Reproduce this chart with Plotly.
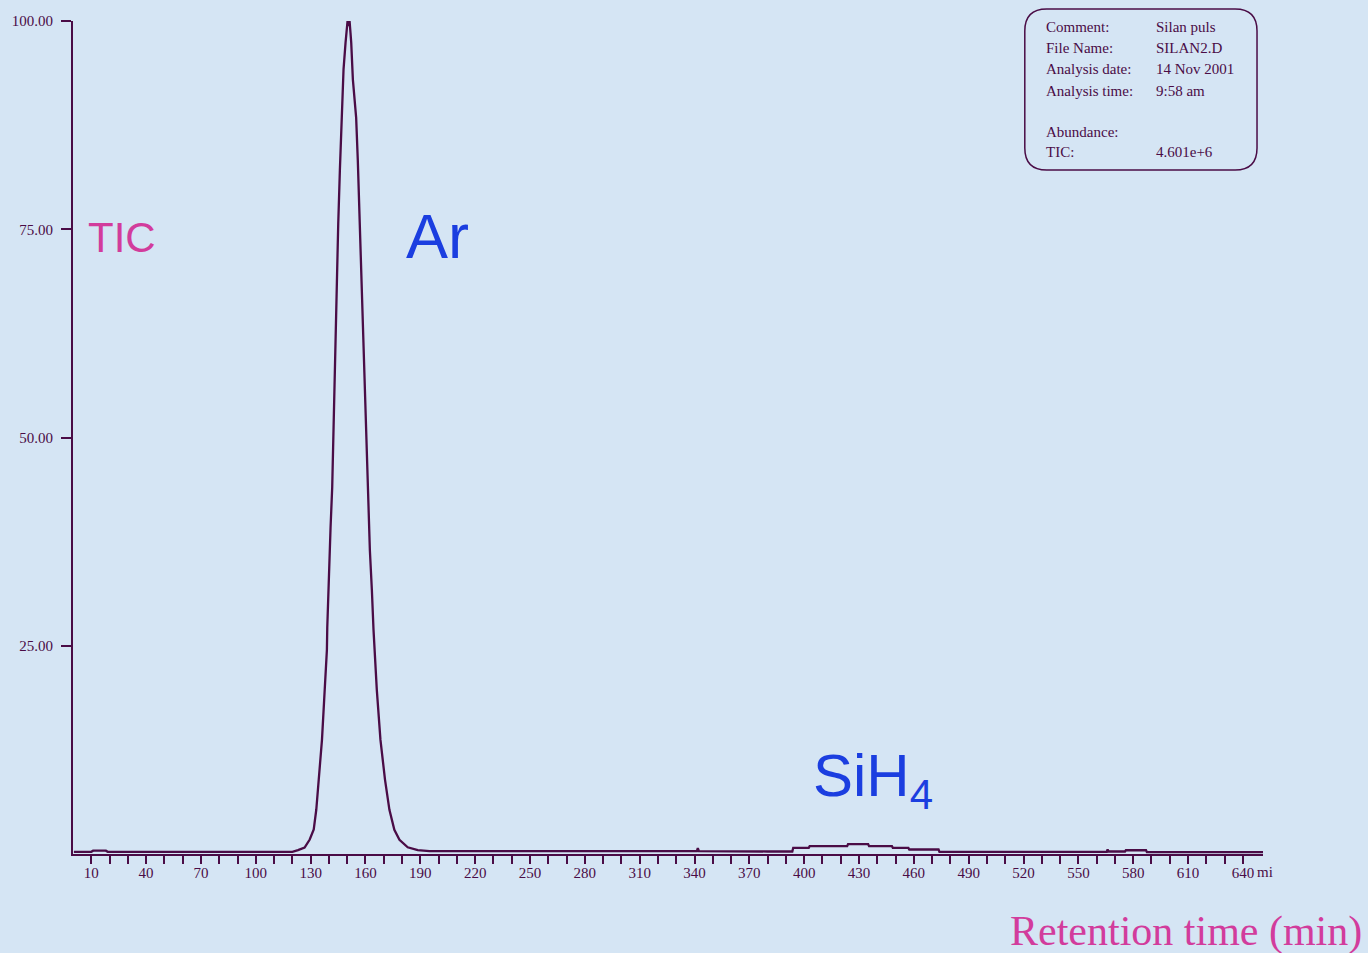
import plotly.graph_objects as go

# ---------------- data ----------------
time_min = [0.5, 10, 11, 18, 19, 60, 100, 120,
            123.1, 126.7, 129.5, 131.7, 133.1, 134.5, 136.2, 137.4, 138.9, 139.1,
            140.0, 140.9, 141.8, 142.4, 142.6, 143.4, 144.4, 145.1, 146.0, 147.1,
            148.0, 149.1, 149.6, 150.2, 150.8, 151.3, 151.8, 152.2, 153.1, 154.9,
            155.8, 156.5, 157.3, 158.2, 159.1, 160.0, 160.9, 161.7, 162.4, 163.5,
            164.4, 166.2, 168.2, 170.7, 173.1, 175.8, 178.6, 183.1, 188.6,
            195, 250, 300, 341.3, 341.8, 342.4, 380, 393.5, 394, 402.5, 403,
            423.5, 424, 435, 435.5, 448, 448.5, 457, 457.5, 473.5, 474,
            520, 565.5, 566, 566.5, 575.5, 576, 587, 587.5, 620, 651]
tic_abundance = [0.26, 0.26, 0.4, 0.4, 0.26, 0.26, 0.26, 0.26,
                 0.46, 0.78, 1.74, 2.94, 5.34, 8.93, 13.7, 18.5, 24.5, 27.2,
                 34.1, 39.2, 44.0, 49.7, 54.5, 62.5, 69.7, 75.7, 82.1, 89.0,
                 94.2, 97.4, 99.0, 100.0, 99.4, 100.0, 98.6, 97.4, 93.0, 88.4,
                 83.3, 78.5, 72.5, 65.0, 59.3, 52.9, 47.3, 41.3, 36.5, 31.7,
                 26.9, 19.7, 13.7, 8.9, 5.3, 2.9, 1.7, 0.8, 0.46,
                 0.34, 0.34, 0.34, 0.34, 0.7, 0.34, 0.3, 0.3, 0.74, 0.74, 0.94,
                 0.94, 1.18, 1.18, 0.94, 0.94, 0.74, 0.74, 0.54, 0.54, 0.26,
                 0.26, 0.26, 0.55, 0.3, 0.3, 0.45, 0.45, 0.22, 0.22, 0.22]

x_tick_values = [10, 40, 70, 100, 130, 160, 190, 220, 250, 280, 310, 340, 370,
                 400, 430, 460, 490, 520, 550, 580, 610, 640]
y_tick_values = [25, 50, 75, 100]

info_labels = ["Comment:", "File Name:", "Analysis date:", "Analysis time:", "Abundance:", "TIC:"]
info_values = ["Silan puls", "SILAN2.D", "14 Nov 2001", "9:58 am", "", "4.601e+6"]

# ---------------- styling ----------------
INK = "#4a0c46"
BG = "#d5e5f4"
MAGENTA = "#d23c9c"
BLUE = "#1b3ee0"
SERIF = "Liberation Serif, Times New Roman, serif"
SANS = "Liberation Sans, Arial, sans-serif"

W, H = 1368, 953
L, R, T, B = 69, 1263, 21, 854


def px(xp):
    return (xp - L) / (R - L)


def py(yp):
    return (B - yp) / (B - T)


fig = go.Figure()
fig.add_trace(go.Scatter(x=time_min, y=tic_abundance, mode="lines",
                         line=dict(color=INK, width=2.3), hoverinfo="x+y",
                         showlegend=False))

fig.update_layout(
    width=W, height=H,
    margin=dict(l=L, r=W - R, t=T, b=H - B, pad=0),
    paper_bgcolor=BG, plot_bgcolor=BG,
    font=dict(family=SERIF, color=INK, size=14),
    xaxis=dict(range=[0, 651], showgrid=False, zeroline=False,
               showline=True, linecolor=INK, linewidth=2,
               tickmode="array", tickvals=x_tick_values,
               ticktext=[str(v) for v in x_tick_values],
               ticks="outside", ticklen=8, tickwidth=2, tickcolor=INK,
               ticklabelstandoff=-4,
               tickfont=dict(family=SERIF, size=15, color=INK),
               minor=dict(tickmode="array", tickvals=list(range(10, 641, 10)),
                          ticks="outside", ticklen=8, tickwidth=2, tickcolor=INK),
               fixedrange=True),
    yaxis=dict(range=[0, 100], showgrid=False, zeroline=False,
               showline=True, linecolor=INK, linewidth=2,
               tickmode="array", tickvals=y_tick_values, tickformat=".2f",
               ticks="outside", ticklen=10, tickwidth=2, tickcolor=INK,
               ticklabelstandoff=5,
               tickfont=dict(family=SERIF, size=15, color=INK),
               fixedrange=True),
)

# info box with rounded corners
bx0, bx1, by0, by1, r = 1024, 1257, 9, 170, 22
path = (f"M {px(bx0 + r)},{py(by0)} L {px(bx1 - r)},{py(by0)} "
        f"Q {px(bx1)},{py(by0)} {px(bx1)},{py(by0 + r)} "
        f"L {px(bx1)},{py(by1 - r)} Q {px(bx1)},{py(by1)} {px(bx1 - r)},{py(by1)} "
        f"L {px(bx0 + r)},{py(by1)} Q {px(bx0)},{py(by1)} {px(bx0)},{py(by1 - r)} "
        f"L {px(bx0)},{py(by0 + r)} Q {px(bx0)},{py(by0)} {px(bx0 + r)},{py(by0)} Z")
fig.add_shape(type="path", path=path, xref="paper", yref="paper",
              line=dict(color=INK, width=1.5), fillcolor="rgba(0,0,0,0)")

row_y = [27, 48, 69, 91, 132, 152]
for lab, val, yy in zip(info_labels, info_values, row_y):
    fig.add_annotation(x=px(1043), y=py(yy), xref="paper", yref="paper",
                       text=lab, showarrow=False, xanchor="left", yanchor="middle",
                       font=dict(family=SERIF, size=15, color=INK))
    if val:
        fig.add_annotation(x=px(1154), y=py(yy), xref="paper", yref="paper",
                           text=val, showarrow=False, xanchor="left", yanchor="middle",
                           font=dict(family=SERIF, size=15, color=INK))

# labels
fig.add_annotation(x=px(82), y=py(237), xref="paper", yref="paper", text="TIC",
                   showarrow=False, xanchor="left", yanchor="middle",
                   font=dict(family=SANS, size=42, color=MAGENTA))
fig.add_annotation(x=px(401), y=py(236), xref="paper", yref="paper", text="Ar",
                   showarrow=False, xanchor="left", yanchor="middle",
                   font=dict(family=SANS, size=63, color=BLUE))
fig.add_annotation(x=px(809), y=py(780), xref="paper", yref="paper",
                   text="SiH<sub>4</sub>",
                   showarrow=False, xanchor="left", yanchor="middle",
                   font=dict(family=SANS, size=60, color=BLUE))
fig.add_annotation(x=px(1364), y=py(932), xref="paper", yref="paper",
                   text="Retention time (min)",
                   showarrow=False, xanchor="right", yanchor="middle",
                   font=dict(family=SERIF, size=42, color=MAGENTA))
fig.add_annotation(x=px(1255), y=py(872), xref="paper", yref="paper",
                   text="mi", showarrow=False, xanchor="left", yanchor="middle",
                   font=dict(family=SERIF, size=15, color=INK))

fig.write_html("out.html", post_script="document.body.style.margin='0';",
               config={"displayModeBar": False})
